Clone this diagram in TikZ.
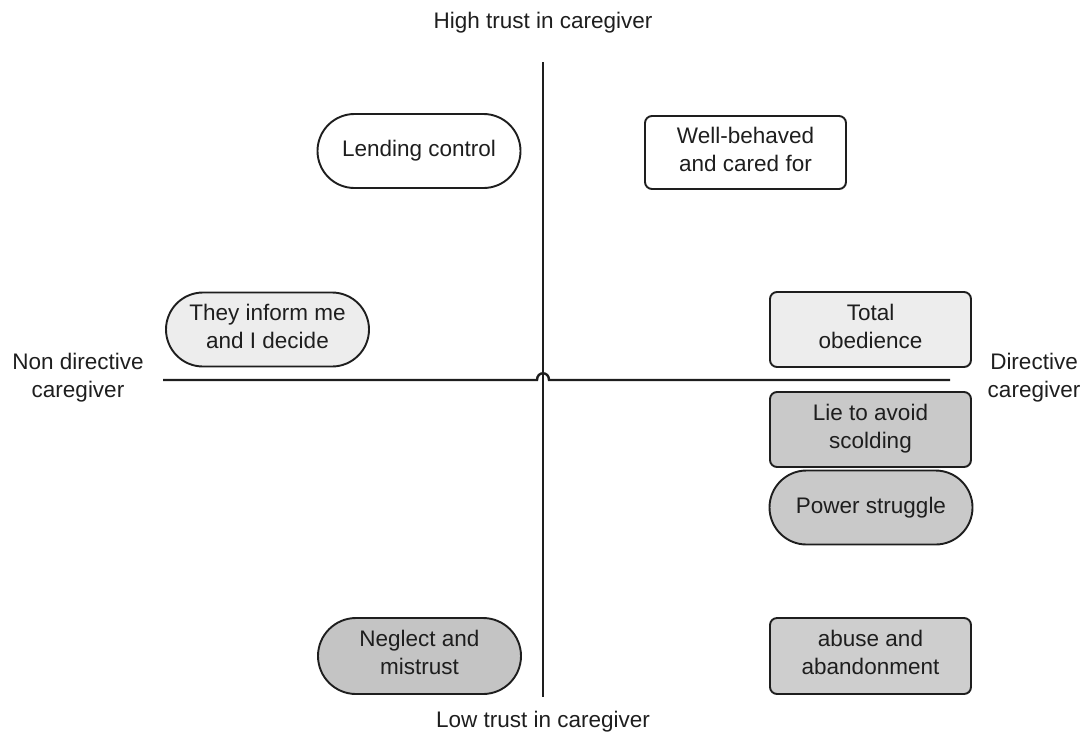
\documentclass[tikz,border=0pt]{standalone}
\usepackage{fontspec}
\setmainfont{Liberation Sans}
\usetikzlibrary{shapes.misc}

\definecolor{inkc}{HTML}{1E1E1E}
\definecolor{paleg}{HTML}{EDEDED}
\definecolor{midg}{HTML}{C9C9C9}
\definecolor{darkg}{HTML}{C4C4C4}

\tikzset{
  x=1pt, y=-1pt,
  txt/.style={text=inkc, font=\fontsize{22.5}{28}\selectfont, align=center, inner sep=0pt},
  card/.style={txt, draw=inkc, line width=1.9pt, rounded corners=7pt,
               minimum width=201pt, minimum height=75pt},
  pill/.style={txt, draw=inkc, line width=1.9pt, rounded rectangle,
               minimum width=203pt, minimum height=74pt},
  twoline/.style={text depth=7pt},
  axis/.style={draw=inkc, line width=2.9pt},
}

\begin{document}
\begin{tikzpicture}
  \useasboundingbox (0,0) rectangle (1083,740);

  % axes
  \coordinate (ytop) at (543,62);
  \coordinate (ybot) at (543,697);
  \coordinate (xleft) at (163,380);
  \coordinate (xright) at (950,380);
  \coordinate (hopA) at (537,380);
  \coordinate (hopB) at (549,380);
  \draw[axis] (ytop) -- (ybot);
  \draw[axis, line width=2.4pt] (xleft) -- (hopA)
       .. controls (537,371) and (549,371) .. (hopB) -- (xright);

  % axis labels
  \node[txt] (hi)  at (543,23)  {High trust in caregiver};
  \node[txt] (lo)  at (543,722) {Low trust in caregiver};
  \node[txt, twoline] (nd)  at (78,379)  {Non directive\\caregiver};
  \node[txt, twoline] (dir) at (1034,379){Directive\\caregiver};

  % quadrant items
  \node[pill, fill=white] (lend)   at (419,151)   {Lending control};
  \node[card, twoline, fill=white, minimum height=73pt] (well) at (745.5,152.5) {Well-behaved\\and cared for};
  \node[pill, twoline, fill=paleg] (inform) at (267.5,329.5) {They inform me\\and I decide};
  \node[card, twoline, fill=paleg] (total)  at (870.5,329.5) {Total\\obedience};
  \node[card, twoline, fill=midg]  (lie)    at (870.5,429.5) {Lie to avoid\\scolding};
  \node[pill, fill=midg]  (power)  at (871,507.5)   {Power struggle};
  \node[pill, twoline, fill=darkg, minimum height=76pt] (neglect) at (419.5,656) {Neglect and\\mistrust};
  \node[card, twoline, fill=midg!90!white, minimum height=76pt] (abuse) at (870.5,656) {abuse and\\abandonment};
\end{tikzpicture}
\end{document}
